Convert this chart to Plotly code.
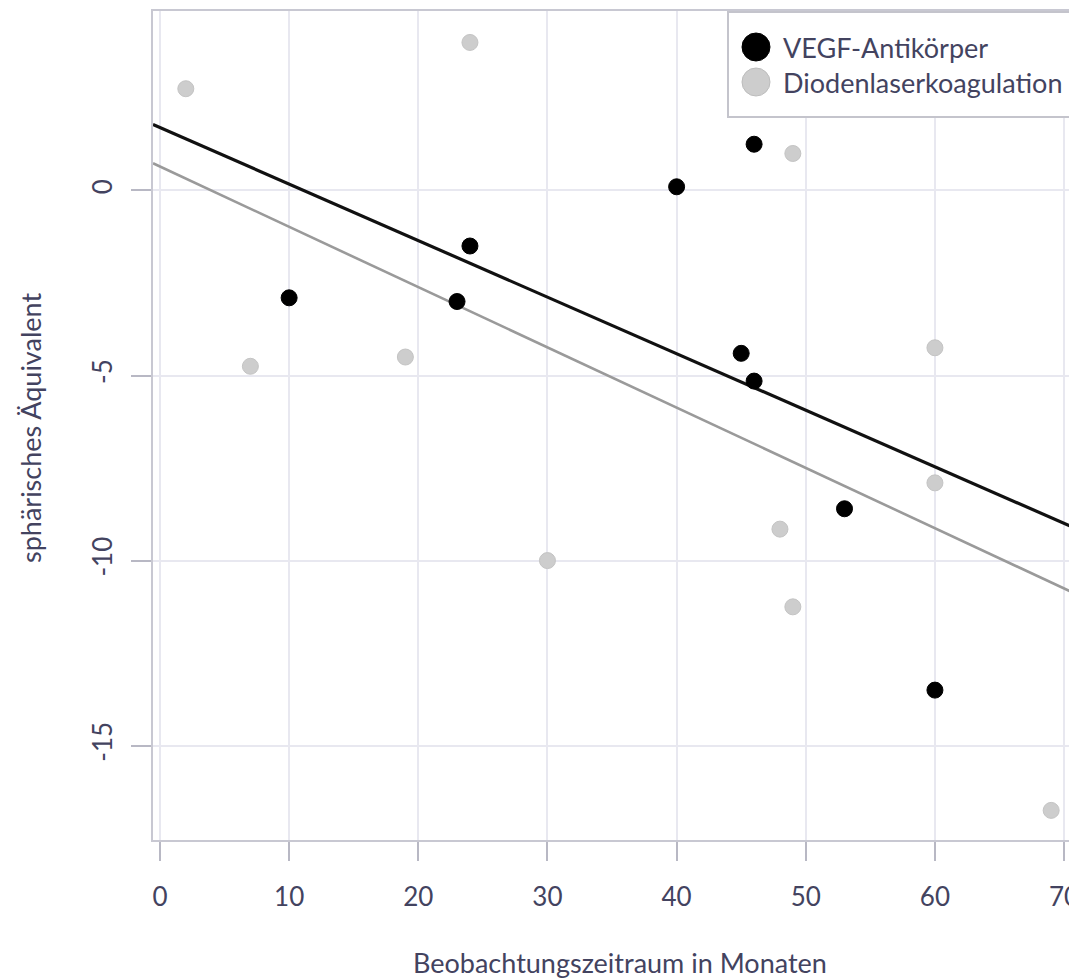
import numpy as np
import plotly.graph_objects as go

# VEGF-Antikörper (black)
vegf_x = [10, 23, 24, 40, 45, 46, 46, 53, 60]
vegf_y = [-2.9, -3.0, -1.5, 0.1, -4.4, -5.15, 1.25, -8.6, -13.5]

# Diodenlaserkoagulation (gray)
laser_x = [2, 24, 49, 7, 19, 30, 48, 49, 60, 60, 69]
laser_y = [2.75, 4.0, 1.0, -4.75, -4.5, -10.0, -9.15, -11.25, -4.25, -7.9, -16.75]

series_names = ["VEGF-Antikörper", "Diodenlaserkoagulation"]
series_colors = ["#000000", "#cdcdcd"]

x_ticks = [0, 10, 20, 30, 40, 50, 60, 70]
x_ticktext = ["0", "10", "20", "30", "40", "50", "60", "70"]
y_ticks = [0, -5, -10, -15]
y_ticktext = ["0", "-5", "-10", "-15"]

X_RANGE = [-0.54, 71.0]
Y_RANGE = [-17.55, 4.85]

FONT = "Lato"
TXT = "#43435f"

# the page body adds an 8px offset; layout is designed in page pixels
OFF = 8
FIG_W, FIG_H = 1077 - OFF, 979 - OFF
L, T, W, H = 153 - OFF, 11 - OFF, 924, 829  # plot area (figure pixels)


def px_x(p):
    return (p - OFF - L) / W


def px_y(p):
    return (T + H - (p - OFF)) / H


fig = go.Figure()

# regression lines computed from the data
line_x = np.array(X_RANGE)
b_l, a_l = np.polyfit(laser_x, laser_y, 1)
b_v, a_v = np.polyfit(vegf_x, vegf_y, 1)

fig.add_trace(go.Scatter(x=line_x, y=a_l + b_l * line_x, mode="lines",
                         line=dict(color="#9a9a9a", width=2.6), showlegend=False,
                         hoverinfo="skip"))
fig.add_trace(go.Scatter(x=line_x, y=a_v + b_v * line_x, mode="lines",
                         line=dict(color="#111111", width=3.2), showlegend=False,
                         hoverinfo="skip"))

fig.add_trace(go.Scatter(x=laser_x, y=laser_y, mode="markers",
                         name=series_names[1], showlegend=False,
                         marker=dict(color=series_colors[1], size=16,
                                     line=dict(color="#c4c4c4", width=1))))
fig.add_trace(go.Scatter(x=vegf_x, y=vegf_y, mode="markers",
                         name=series_names[0], showlegend=False,
                         marker=dict(color=series_colors[0], size=16,
                                     line=dict(color="#000000", width=1))))

# legend box (drawn as a framed box like the original)
shapes = [
    dict(type="rect", xref="paper", yref="paper",
         x0=px_x(728), x1=px_x(1090), y0=px_y(117), y1=px_y(12),
         fillcolor="white", line=dict(color="#c4c4cc", width=2),
         layer="above"),
]
annotations = []
R = 14
for i, (nm, col) in enumerate(zip(series_names, series_colors)):
    cy = 47 + 35 * i
    shapes.append(dict(type="circle", xref="paper", yref="paper",
                       x0=px_x(756 - R), x1=px_x(756 + R),
                       y0=px_y(cy + R), y1=px_y(cy - R),
                       fillcolor=col,
                       line=dict(color="#000000" if i == 0 else "#bdbdbd", width=1),
                       layer="above"))
    annotations.append(dict(text=nm, xref="paper", yref="paper",
                            x=px_x(781), y=px_y(cy), xanchor="left",
                            yanchor="middle", showarrow=False,
                            font=dict(family=FONT, size=27, color=TXT)))

annotations += [
    dict(text="Beobachtungszeitraum in Monaten", xref="paper", yref="paper",
         x=px_x(620), y=px_y(962), xanchor="center", yanchor="middle",
         showarrow=False, font=dict(family=FONT, size=27, color=TXT)),
    dict(text="sphärisches Äquivalent", xref="paper", yref="paper",
         x=px_x(30), y=px_y(428), xanchor="center", yanchor="middle",
         textangle=-90, showarrow=False,
         font=dict(family=FONT, size=27, color=TXT)),
]

fig.update_layout(
    width=FIG_W, height=FIG_H,
    margin=dict(l=L, r=FIG_W - L - W, t=T, b=FIG_H - T - H, autoexpand=False),
    paper_bgcolor="white", plot_bgcolor="white",
    font=dict(family=FONT, color=TXT, size=26),
    showlegend=False,
    xaxis=dict(range=X_RANGE, tickmode="array", tickvals=x_ticks,
               ticktext=x_ticktext, ticklabeloverflow="allow",
               showgrid=True, gridcolor="#e8e8f0", gridwidth=2,
               zeroline=False, showline=True, mirror=True,
               linecolor="#c8c8d2", linewidth=2,
               ticks="outside", ticklen=19, tickwidth=2, tickcolor="#b8b8c4",
               ticklabelstandoff=14,
               tickfont=dict(family=FONT, size=26, color=TXT)),
    yaxis=dict(range=Y_RANGE, tickmode="array", tickvals=y_ticks,
               ticktext=y_ticktext, ticklabeloverflow="allow",
               showgrid=True, gridcolor="#e8e8f0", gridwidth=2,
               zeroline=False, showline=True, mirror=True,
               linecolor="#c8c8d2", linewidth=2,
               ticks="outside", ticklen=20, tickwidth=2, tickcolor="#b8b8c4",
               tickangle=-90, ticklabelstandoff=9,
               tickfont=dict(family=FONT, size=26, color=TXT)),
    shapes=shapes,
    annotations=annotations,
)

fig.write_html("out.html")
